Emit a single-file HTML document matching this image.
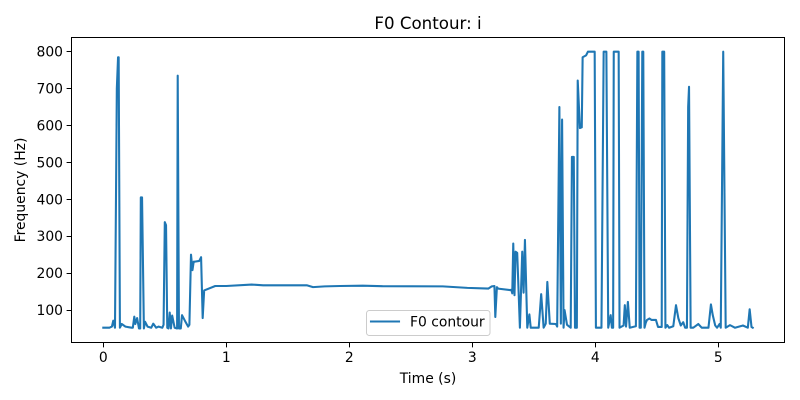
<!DOCTYPE html>
<html>
<head>
<meta charset="utf-8">
<style>
html,body{margin:0;padding:0;background:#fff;}
svg{display:block;}
text{font-family:"DejaVu Sans","Liberation Sans",sans-serif;fill:#000;}
</style>
</head>
<body>
<svg id="chart" xmlns="http://www.w3.org/2000/svg" width="800" height="400" viewBox="0 0 800 400"></svg>
<script>
const times = [0,0.05,0.07,0.081,0.095,0.11,0.12,0.125,0.135,0.15,0.18,0.23,0.24,0.252,0.26,0.275,0.29,0.3,0.305,0.315,0.33,0.34,0.36,0.39,0.406,0.43,0.45,0.48,0.49,0.5,0.51,0.52,0.53,0.54,0.55,0.56,0.58,0.6,0.605,0.615,0.63,0.64,0.665,0.69,0.7,0.713,0.725,0.735,0.745,0.78,0.795,0.808,0.82,0.91,1.0,1.206,1.3,1.49,1.654,1.705,1.8,1.925,2.11,2.27,2.76,2.96,3.13,3.158,3.18,3.187,3.2,3.21,3.306,3.317,3.325,3.333,3.343,3.352,3.365,3.387,3.406,3.417,3.428,3.447,3.464,3.475,3.54,3.56,3.58,3.597,3.61,3.63,3.68,3.69,3.708,3.72,3.73,3.742,3.75,3.77,3.8,3.81,3.825,3.835,3.85,3.857,3.875,3.89,3.897,3.925,3.94,3.995,4.005,4.05,4.068,4.09,4.105,4.125,4.135,4.145,4.15,4.19,4.197,4.23,4.24,4.25,4.265,4.28,4.33,4.342,4.352,4.36,4.37,4.382,4.39,4.4,4.41,4.42,4.44,4.458,4.493,4.51,4.54,4.545,4.56,4.57,4.585,4.6,4.634,4.656,4.675,4.695,4.715,4.73,4.745,4.755,4.762,4.775,4.797,4.837,4.865,4.92,4.94,4.955,4.975,4.99,5.01,5.02,5.04,5.06,5.095,5.135,5.19,5.2,5.24,5.255,5.27,5.28];
const f0Values = [52,52,55,71,52,700,785,785,52,62,55,52,52,82,62,78,50,50,405,405,50,68,55,52,63,52,55,52,60,338,330,52,50,93,50,85,52,50,735,50,50,86,70,55,60,250,208,231,231,233,243,78,153,165,165,169,167,167,167,162,164,165,166,164.5,164,160,158,164,165,81,162,158,154,155,145,280,140,258,255,52,258,147,290,52,88,52,52,143,52,63,176,63,62,55,650,63,616,52,100,60,52,515,515,52,52,722,593,595,785,790,800,800,52,52,800,800,52,86,52,52,800,800,52,58,113,55,122,52,56,800,800,52,52,800,800,52,65,73,77,73,73,54,54,800,800,52,59,52,56,113,78,58,67,52,52,650,705,52,52,62,52,52,115,86,58,52,62,52,800,52,59,52,57,58,52,102,54,52];
const xTickLabels = [0,1,2,3,4,5];
const yTickLabels = [100,200,300,400,500,600,700,800];
const chartTitle = "F0 Contour: i";
const xTitle = "Time (s)";
const yTitle = "Frequency (Hz)";
const seriesName = "F0 contour";

const NS = "http://www.w3.org/2000/svg";
const svg = document.getElementById("chart");
const frame = {left:71.5, right:784.5, top:37.5, bottom:342.5};
function xScale(t){ return 103.3 + t * 123; }
function yScale(v){ return 346.9 - v * 0.369; }
function make(tag, attrs, parent){
  const el = document.createElementNS(NS, tag);
  for (const k in attrs) el.setAttribute(k, attrs[k]);
  (parent || svg).appendChild(el);
  return el;
}

// contour line
const points = times.map(function(t, i){ return xScale(t).toFixed(2) + "," + yScale(f0Values[i]).toFixed(2); }).join(" ");
const line = make("polyline", {points:points, fill:"none", stroke:"#1f77b4", "stroke-width":2.08, "stroke-linejoin":"round", "stroke-linecap":"square"});



// axes frame
const axesFrame = make("rect", {x:frame.left, y:frame.top, width:frame.right-frame.left, height:frame.bottom-frame.top, fill:"none", stroke:"#000", "stroke-width":1});



// x ticks
xTickLabels.forEach(function(v){
  const x = Math.floor(xScale(v)) + 0.5;
  const tick = make("line", {x1:x, x2:x, y1:frame.bottom, y2:frame.bottom+4.9, stroke:"#000", "stroke-width":1});
  
  
  const label = make("text", {x:xScale(v), y:362, "font-size":13.9, "text-anchor":"middle"});
  
  
  label.textContent = v;
});

// y ticks
yTickLabels.forEach(function(v){
  const y = Math.floor(yScale(v)) + 0.5;
  const tick = make("line", {x1:frame.left-4.9, x2:frame.left, y1:y, y2:y, stroke:"#000", "stroke-width":1});
  
  
  const label = make("text", {x:frame.left-8.5, y:yScale(v)+5, "font-size":13.9, "text-anchor":"end"});
  
  
  label.textContent = v;
});

// titles
const titleEl = make("text", {x:428, y:29, "font-size":16.67, "text-anchor":"middle"});


titleEl.textContent = chartTitle;

const xTitleEl = make("text", {x:428, y:383, "font-size":13.9, "text-anchor":"middle"});


xTitleEl.textContent = xTitle;

const yTitleEl = make("text", {x:0, y:0, "font-size":13.9, "text-anchor":"middle", transform:"translate(25,190) rotate(-90)"});


yTitleEl.textContent = yTitle;

// legend
const legendBox = make("rect", {x:366.5, y:310.5, width:123.5, height:25, rx:2.8, ry:2.8, fill:"#fff", "fill-opacity":0.8, stroke:"#ccc", "stroke-width":1});



const legendLine = make("line", {x1:371, x2:399, y1:321.5, y2:321.5, stroke:"#1f77b4", "stroke-width":2.08, "stroke-linecap":"square"});



const legendText = make("text", {x:410, y:326.5, "font-size":13.9});


legendText.textContent = seriesName;
</script>
</body>
</html>
